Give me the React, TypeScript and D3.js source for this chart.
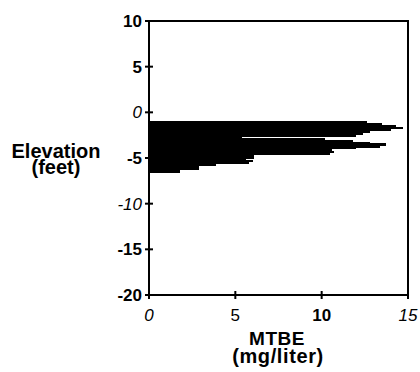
import React from "react";
import * as d3 from "d3";

// Elevation (ft) at the top of each sampled band, and MTBE (mg/liter) in it
const elevationTop = [
  -1.0, -1.2, -1.4, -1.6, -1.8, -2.0, -2.2, -2.4, -2.6, -2.8,
  -3.0, -3.2, -3.4, -3.6, -3.8, -4.0, -4.2, -4.4, -4.6, -4.8,
  -5.0, -5.2, -5.4, -5.6, -5.8, -6.0, -6.2, -6.4,
];
const elevationBottomEnd = -6.6;
const mtbe = [
  12.6, 13.5, 14.3, 14.7, 14.0, 12.8, 12.4, 12.0, 5.4, 10.2,
  11.8, 12.8, 13.7, 13.4, 12.0, 10.6, 10.7, 10.5, 6.1, 6.1,
  5.6, 6.0, 5.8, 3.9, 2.9, 2.9, 1.8, 1.8,
];

const yTicks = [10, 5, 0, -5, -10, -15, -20];
const yTickStyle: Record<string, { italic: boolean; bold: boolean }> = {
  "10": { italic: false, bold: true },
  "5": { italic: false, bold: true },
  "0": { italic: true, bold: false },
  "-5": { italic: false, bold: true },
  "-10": { italic: true, bold: false },
  "-15": { italic: false, bold: true },
  "-20": { italic: false, bold: true },
};
const xTicks = [0, 5, 10, 15];
const xTickStyle: Record<string, { italic: boolean; bold: boolean }> = {
  "0": { italic: true, bold: false },
  "5": { italic: false, bold: false },
  "10": { italic: false, bold: true },
  "15": { italic: true, bold: false },
};

const W = 420;
const H = 372;
const FONT = "'Liberation Sans', Arial, Helvetica, sans-serif";

export default function App() {
  const x = d3.scaleLinear().domain([0, 15]).range([149, 408]);
  const y = d3.scaleLinear().domain([10, -20]).range([21, 295]);

  const bands = elevationTop.map((top, i) => {
    const bottom = i < elevationTop.length - 1 ? elevationTop[i + 1] : elevationBottomEnd;
    return { top, bottom, value: mtbe[i] };
  });

  return (
    <div style={{ position: "absolute", left: 0, top: 0 }}>
      <svg width={W} height={H} style={{ display: "block", background: "#fff" }}>
        {/* bars */}
        <g shapeRendering="crispEdges">
          {bands.map((b, i) => (
            <rect
              key={i}
              x={x(0)}
              y={y(b.top)}
              width={x(b.value) - x(0)}
              height={y(b.bottom) - y(b.top) + 0.6}
              fill="#000"
            />
          ))}
        </g>
        {/* frame */}
        <rect
          x={x(0)}
          y={y(10)}
          width={x(15) - x(0)}
          height={y(-20) - y(10)}
          fill="none"
          stroke="#000"
          strokeWidth={2}
        />
        {/* y ticks */}
        {yTicks.map((t) => (
          <g key={"y" + t}>
            <line x1={x(0) - 4} x2={x(0) + 4} y1={y(t)} y2={y(t)} stroke="#000" strokeWidth={2} />
            <text
              x={x(0) - 7}
              y={y(t)}
              dy="0.36em"
              textAnchor="end"
              fontFamily={FONT}
              fontSize={17}
              fontWeight={yTickStyle[String(t)].bold ? "bold" : "normal"}
              fontStyle={yTickStyle[String(t)].italic ? "italic" : "normal"}
            >
              {t}
            </text>
          </g>
        ))}
        {/* x ticks */}
        {xTicks.map((t) => (
          <g key={"x" + t}>
            <line x1={x(t)} x2={x(t)} y1={y(-20) - 4} y2={y(-20) + 4} stroke="#000" strokeWidth={2} />
            <text
              x={x(t)}
              y={321}
              textAnchor="middle"
              fontFamily={FONT}
              fontSize={17}
              fontWeight={xTickStyle[String(t)].bold ? "bold" : "normal"}
              fontStyle={xTickStyle[String(t)].italic ? "italic" : "normal"}
            >
              {t}
            </text>
          </g>
        ))}
        {/* axis titles */}
        <text x={56} y={158} textAnchor="middle" fontFamily={FONT} fontSize={20} fontWeight="bold">
          Elevation
        </text>
        <text x={56} y={174} textAnchor="middle" fontFamily={FONT} fontSize={20} fontWeight="bold">
          (feet)
        </text>
        <text x={277} y={345} textAnchor="middle" fontFamily={FONT} fontSize={19} fontWeight="bold" letterSpacing={0.5}>
          MTBE
        </text>
        <text x={278} y={363} textAnchor="middle" fontFamily={FONT} fontSize={20} fontWeight="bold" letterSpacing={0.6}>
          (mg/liter)
        </text>
      </svg>
    </div>
  );
}
